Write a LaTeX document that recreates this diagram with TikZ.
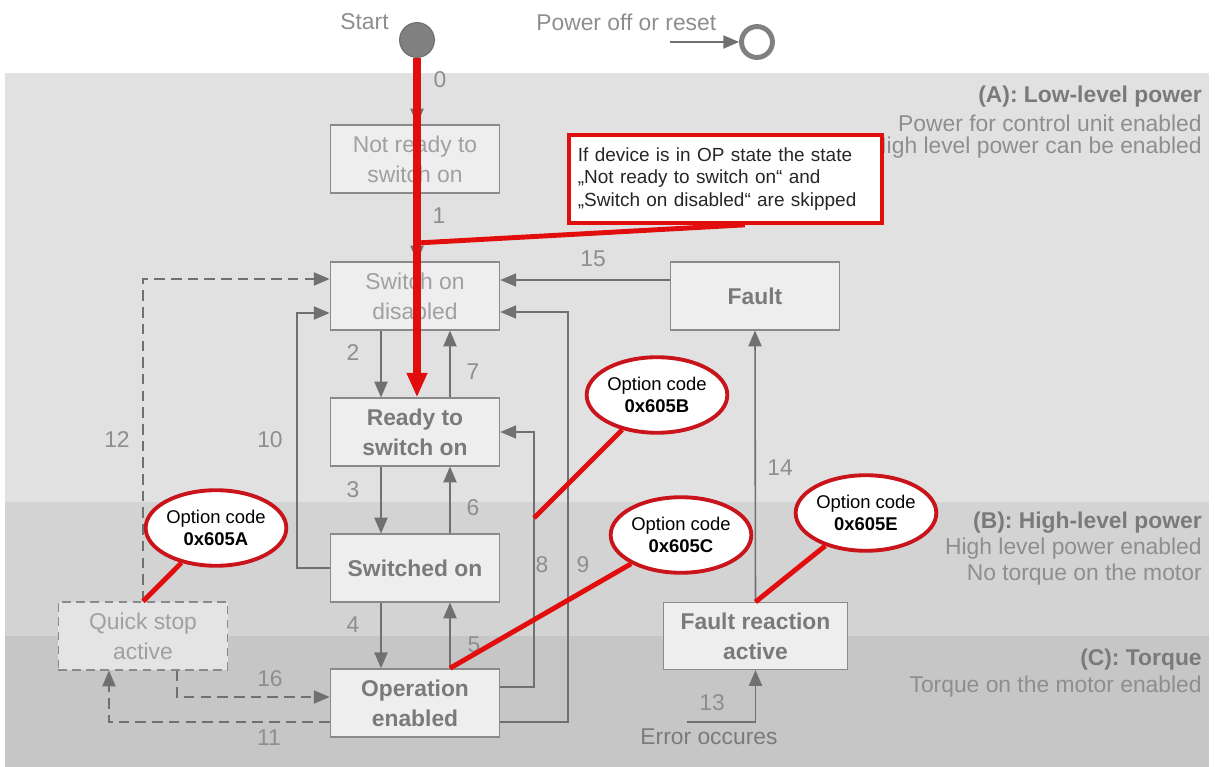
\documentclass[tikz,border=0pt]{standalone}
\usepackage{fontspec}
\setmainfont{Liberation Sans}
\usetikzlibrary{shapes.geometric,arrows.meta,calc}
\definecolor{bandA}{HTML}{E1E1E1}
\definecolor{bandB}{HTML}{D3D3D3}
\definecolor{bandC}{HTML}{C6C6C6}
\definecolor{boxline}{HTML}{8A8A8A}
\definecolor{boxfill}{HTML}{EEEEEE}
\definecolor{lighttext}{HTML}{A0A0A0}
\definecolor{darktext}{HTML}{7A7A7A}
\definecolor{numgray}{HTML}{8E8E8E}
\definecolor{arrowgray}{HTML}{707070}
\definecolor{redc}{HTML}{E20E0E}
\definecolor{optred}{HTML}{C8141A}
\definecolor{startgray}{HTML}{808080}
\begin{document}
\begin{tikzpicture}[x=0.02cm,y=-0.02cm,
  stbox/.style={draw=boxline, fill=boxfill, line width=0.8pt, minimum width=96.4pt, minimum height=38.5pt, align=center, inner sep=0pt},
  lightt/.style={text=lighttext, font=\fontsize{13}{17}\selectfont},
  darkt/.style={text=darktext, font=\fontsize{13}{17}\selectfont\bfseries},
  arr/.style={draw=arrowgray, line width=0.9pt, -{Triangle[length=9pt,width=7.5pt]}},
  dasharr/.style={arr, dash pattern=on 6pt off 3.5pt},
  num/.style={text=numgray, font=\fontsize{13}{15}\selectfont, inner sep=0pt},
  hdr/.style={text=darktext, font=\fontsize{13}{15}\selectfont\bfseries, inner sep=0pt, anchor=east},
  sub/.style={text=numgray, font=\fontsize{13}{15}\selectfont, inner sep=0pt, anchor=east},
  opt/.style={ellipse, draw=optred, line width=2.2pt, fill=white, minimum width=78pt, minimum height=43pt, inner sep=0pt, align=center, font=\fontsize{10.5}{12.5}\selectfont},
  redline/.style={draw=redc, line width=2.8pt},
  redarrow/.style={draw=redc, line width=4pt, -{Triangle[length=14pt,width=11pt]}}
]
\useasboundingbox (0,0) rectangle (1215,767);
\fill[white] (0,0) rectangle (1215,767);
% bands
\fill[bandA] (5,73) rectangle (1209,502);
\fill[bandB] (5,502) rectangle (1209,636);
\fill[bandC] (5,636) rectangle (1209,767);

% right side texts
\node[hdr] at (1202,97) {(A): Low-level power};
\node[sub] at (1202,123) {Power for control unit enabled};
\node[sub] at (1202,148) {High level power can be enabled};
\node[hdr] at (1202,523) {(B): High-level power};
\node[sub] at (1202,549) {High level power enabled};
\node[sub] at (1202,575) {No torque on the motor};
\node[hdr] at (1202,660) {(C): Torque};
\node[sub] at (1202,687) {Torque on the motor enabled};

% top
\node[num, anchor=east] (tstart) at (389,22) {Start};
\node[num, anchor=west] (tpoff) at (536,22) {Power off or reset};
\node[circle, fill=startgray, draw=startgray!85!black, line width=0.6pt, minimum size=19.8pt, inner sep=0pt] (start) at (417,40) {};
\node[circle, draw=startgray, line width=2.8pt, minimum size=17.6pt, inner sep=0pt] (poff) at (757,42) {};
\coordinate (pin) at (670,42);
\draw[arr] (pin) -- (poff);

% states
\node[stbox, lightt] (notready) at (415,159) {Not ready to\\switch on};
\node[stbox, lightt] (swdis) at (415,296) {Switch on\\disabled};
\node[stbox, darkt] (ready) at (415,432) {Ready to\\switch on};
\node[stbox, darkt] (swon) at (415,568) {Switched on};
\node[stbox, darkt, minimum height=38.8pt] (opena) at (415,703) {Operation\\enabled};
\node[stbox, darkt] (fault) at (755,296) {Fault};
\node[stbox, darkt, minimum width=104.9pt, minimum height=38pt] (freact) at (755.5,636) {Fault reaction\\active};
\node[stbox, lightt, dash pattern=on 5pt off 3pt, fill=boxfill!96!black] (quick) at (143,636) {Quick stop\\active};

% helper coordinates
\coordinate (c2) at (381,0);
\coordinate (c7) at (450,0);
\coordinate (x8) at (534,500);
\coordinate (x9) at (568,500);
\coordinate (x10) at (297,400);
\coordinate (y279) at (0,279);
\coordinate (y313) at (0,313);
\coordinate (y312) at (0,312);
\coordinate (y280) at (0,280);
\coordinate (y687) at (0,687);
\coordinate (y722) at (0,722);
\coordinate (y697) at (0,697);
\coordinate (x177) at (177,0);
\coordinate (x109) at (109,0);
\coordinate (err) at (687,722);

% gray transitions
\draw[arr] (start) -- (start |- notready.north);
\draw[arr] (start |- notready.south) -- (start |- swdis.north);
\draw[arr] (swdis.south -| c2) -- (ready.north -| c2);
\draw[arr] (ready.north -| c7) -- (swdis.south -| c7);
\draw[arr] (ready.south -| c2) -- (swon.north -| c2);
\draw[arr] (swon.north -| c7) -- (ready.south -| c7);
\draw[arr] (swon.south -| c2) -- (opena.north -| c2);
\draw[arr] (opena.north -| c7) -- (swon.south -| c7);
\draw[arr] (opena.east |- y687) -| (x8) |- (ready.east);
\draw[arr] (opena.east |- y722) -| (x9) |- (swdis.east |- y312);
\draw[arr] (fault.west |- y280) -- (swdis.east |- y280);
\draw[arr] (swon.west) -| (x10) |- (swdis.west |- y313);
\draw[dasharr] (quick.north) |- (swdis.west |- y279);
\draw[dasharr] (quick.south -| x177) |- (opena.west |- y697);
\draw[dasharr] (opena.west |- y722) -| (quick.south -| x109);
\draw[arr] (freact.north) -- (fault.south);
\draw[arr] (err) -| (freact.south);

% labels
\node[num] at (440,80) {0};
\node[num] at (439,216) {1};
\node[num] at (353,353) {2};
\node[num] at (473,372) {7};
\node[num] at (353,490) {3};
\node[num] at (473,508) {6};
\node[num] at (353,625) {4};
\node[num] at (474,645) {5};
\node[num] at (542,565) {8};
\node[num] at (583,565) {9};
\node[num] at (270,440) {10};
\node[num] at (117,440) {12};
\node[num] at (593,259) {15};
\node[num] at (780,468) {14};
\node[num] at (270,679) {16};
\node[num] at (269,738) {11};
\node[num] at (712,703) {13};
\node[num, text=darktext] at (709,737) {Error occures};

% red annotations
\draw[redarrow] (start) -- (start |- ready.north);
\node[draw=redc, line width=2.3pt, fill=white, minimum width=178.6pt, minimum height=49.9pt, text width=168pt, inner xsep=5pt, align=left, font=\fontsize{10.8}{12.8}\selectfont, text=black!85] (callout) at (725.5,179) {If device is in OP state the state\\„Not ready to switch on“ and\\„Switch on disabled“ are skipped};
\coordinate (j) at (417,243);
\draw[redline] ([xshift=11pt]callout.south) -- (j);

\coordinate (pB) at (534,518);
\node[opt] (ocA) at (216,528) {Option code\\\textbf{0x605A}};
\node[opt] (ocB) at (657,395) {Option code\\\textbf{0x605B}};
\node[opt] (ocC) at (681,535) {Option code\\\textbf{0x605C}};
\node[opt] (ocE) at (866,513) {Option code\\\textbf{0x605E}};
\draw[redline] (ocA) -- (quick.north);
\draw[redline] (ocB) -- (pB);
\draw[redline] (ocC) -- (opena.north -| c7);
\draw[redline] (ocE) -- (freact.north);
\end{tikzpicture}
\end{document}
